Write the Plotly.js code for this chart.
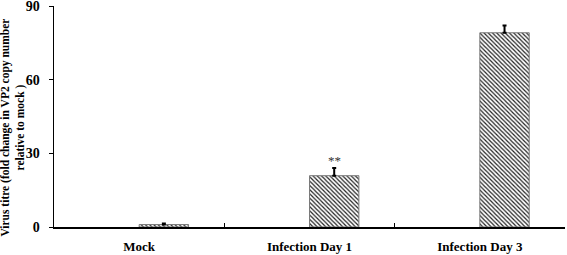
<!DOCTYPE html>
<html>
<head>
<meta charset="utf-8">
<script src="https://cdn.plot.ly/plotly-3.0.1.min.js"></script>
<style>html,body{margin:0;padding:0;background:#fff;}#chart{width:567px;height:255px;}</style>
</head>
<body>
<div id="chart"></div>
<script>
var categories = ["Mock", "Infection Day 1", "Infection Day 3"];
var values = [1.0, 20.9, 79.1];
var errorsPlus = [0.4, 3.1, 3.0];
var errorsMinus = [0, 0, 0];
var yTickValues = [0, 30, 60, 90];
var significance = ["", "**", ""];
var yTitle = "Virus titre (fold change in VP2 copy number<br>relative to mock )";

var font = "'Liberation Serif', 'Times New Roman', serif";

var trace = {
  type: "bar",
  x: categories,
  y: values,
  width: 0.29,
  offset: 0,
  marker: {
    color: "#ffffff",
    line: {color: "#7a7a7a", width: 1},
    pattern: {shape: "\\", fgcolor: "#222222", bgcolor: "#ffffff", size: 3, solidity: 0.4}
  },
  error_y: {
    type: "data", symmetric: false, array: errorsPlus, arrayminus: errorsMinus,
    color: "#000000", thickness: 2, width: 2
  },
  hoverinfo: "skip"
};

var annotations = [];
for (var i = 0; i < categories.length; i++) {
  if (significance[i]) {
    annotations.push({
      x: i + 0.145, y: values[i] + errorsPlus[i], xref: "x", yref: "y",
      text: significance[i], showarrow: false, yanchor: "bottom", yshift: -2,
      font: {family: font, size: 13, color: "#333"}
    });
  }
}
annotations.push({
  text: yTitle, textangle: -90, showarrow: false,
  xref: "paper", yref: "paper", x: -0.0802, y: 0.45,
  xanchor: "center", yanchor: "middle",
  font: {family: font, size: 11.5, color: "#000", weight: "bold"}
});

var layout = {
  width: 567, height: 255,
  margin: {l: 54, r: 2, t: 5.6, b: 28.3},
  paper_bgcolor: "#fff", plot_bgcolor: "#fff",
  showlegend: false,
  xaxis: {
    type: "category",
    range: [-0.5, 2.5],
    showline: true, linecolor: "#000", linewidth: 1.5,
    ticks: "inside", tickson: "boundaries", ticklen: 4, tickcolor: "#000",
    ticklabelstandoff: 7,
    tickfont: {family: font, size: 13, color: "#000", weight: "bold"},
    showgrid: false, zeroline: false, fixedrange: true
  },
  yaxis: {
    range: [0, 90],
    tickvals: yTickValues,
    ticklabeloverflow: "allow",
    showline: true, linecolor: "#000", linewidth: 1.5,
    ticks: "outside", ticklen: 4, tickcolor: "#000",
    ticklabelstandoff: 6,
    tickfont: {family: font, size: 14, color: "#000", weight: "bold"},
    showgrid: false, zeroline: false, fixedrange: true
  },
  annotations: annotations
};

Plotly.newPlot("chart", [trace], layout, {displayModeBar: false, staticPlot: true});
</script>
</body>
</html>
